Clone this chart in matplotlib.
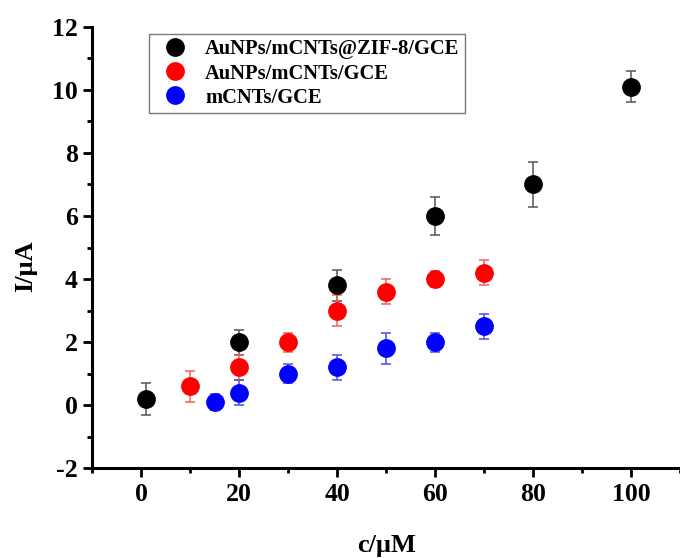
import matplotlib
matplotlib.use("Agg")
import matplotlib.pyplot as plt
from matplotlib.lines import Line2D
from matplotlib.ticker import MultipleLocator

plt.rcParams['font.family'] = ['Liberation Serif', 'DejaVu Serif']
plt.rcParams['font.weight'] = 'bold'
plt.rcParams['axes.unicode_minus'] = False

# AuNPs/mCNTs@ZIF-8/GCE
c_zif = [1, 20, 40, 60, 80, 100]
i_zif = [0.2, 2.0, 3.8, 6.0, 7.0, 10.1]
e_zif = [0.5, 0.4, 0.5, 0.6, 0.7, 0.5]

# AuNPs/mCNTs/GCE
c_au = [10, 20, 30, 40, 50, 60, 70]
i_au = [0.6, 1.2, 2.0, 3.0, 3.6, 4.0, 4.2]
e_au = [0.5, 0.4, 0.3, 0.5, 0.4, 0.25, 0.4]

# mCNTs/GCE
c_cnt = [15, 20, 30, 40, 50, 60, 70]
i_cnt = [0.1, 0.4, 1.0, 1.2, 1.8, 2.0, 2.5]
e_cnt = [0.25, 0.4, 0.3, 0.4, 0.5, 0.3, 0.4]

labels = ['AuNPs/mCNTs@ZIF-8/GCE', 'AuNPs/mCNTs/GCE', 'mCNTs/GCE']
colors = ['#000000', '#ff0000', '#0000ff']
err_colors = ['#555555', '#f06060', '#5050e0']

fig = plt.figure(figsize=(6.8, 5.58), dpi=100)
ax = fig.add_axes([0.1357, 0.1607, 0.8643, 0.7913])

series = [(c_zif, i_zif, e_zif), (c_au, i_au, e_au), (c_cnt, i_cnt, e_cnt)]
for (x, y, e), col, ecol in zip(series, colors, err_colors):
    ax.errorbar(x, y, yerr=e, fmt='o', color=col, ms=12.5, mec=col,
                ecolor=ecol, elinewidth=1.1, capsize=3.5, capthick=1.1,
                zorder=3)

ax.set_xlim(-10, 110)
ax.set_ylim(-2, 12)
ax.xaxis.set_major_locator(MultipleLocator(20))
ax.xaxis.set_minor_locator(MultipleLocator(10))
ax.yaxis.set_major_locator(MultipleLocator(2))
ax.yaxis.set_minor_locator(MultipleLocator(1))

for s in ['top', 'right']:
    ax.spines[s].set_visible(False)
for s in ['left', 'bottom']:
    ax.spines[s].set_linewidth(2.2)

ax.tick_params(which='major', direction='out', length=6.5, width=2.0,
               labelsize=18.5, pad=4)
ax.tick_params(which='minor', direction='out', length=3.5, width=2.0)
for t in ax.get_xticklabels() + ax.get_yticklabels():
    t.set_fontweight('bold')

ax.set_xlabel('c/μM', fontsize=19, fontweight='bold', labelpad=20)
ax.set_ylabel('I/μA', fontsize=19, fontweight='bold')
ax.yaxis.set_label_coords(-0.094, 0.458)

handles = [Line2D([], [], ls='none', marker='o', color=c, mec=c, ms=12.5)
           for c in colors]
leg = ax.legend(handles, labels, loc='upper left',
                bbox_to_anchor=(0.097, 0.983),
                frameon=True, fancybox=False, edgecolor='#555555',
                prop={'family': 'Liberation Serif', 'weight': 'bold', 'size': 14.8},
                handletextpad=0.42, borderpad=0.25, labelspacing=0.2,
                handlelength=2.05, borderaxespad=0)
leg.get_frame().set_linewidth(1.0)

fig.savefig('out.png', dpi=100)
